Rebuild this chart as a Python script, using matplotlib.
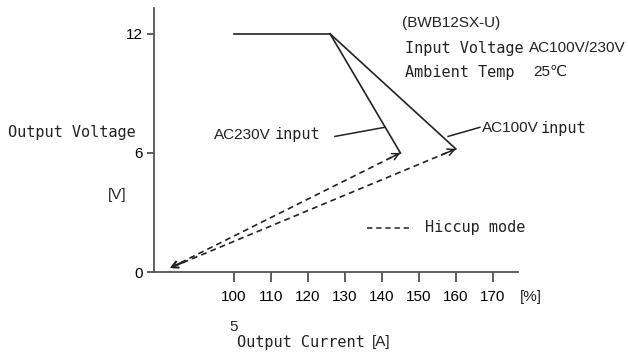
import matplotlib
matplotlib.use("Agg")
import matplotlib.pyplot as plt
from matplotlib.lines import Line2D

# data
knee_x = [100, 126]          # flat part, % of rated current
knee_v = [12, 12]
ac230_x = [126, 145]
ac230_v = [12, 6]
ac100_x = [126, 160]
ac100_v = [12, 6.2]
hiccup_end = (82.7, 0.2)
x_ticks = [100, 110, 120, 130, 140, 150, 160, 170]
y_ticks = [0, 6, 12]

W, H = 628, 357
SANS = ['Liberation Sans', 'DejaVu Sans']
MONO = 'DejaVu Sans Mono'
INK = '#222222'

fig = plt.figure(figsize=(W / 100, H / 100), dpi=100)
ax = fig.add_axes([154 / W, 1 - 272 / H, (518 - 154) / W, (272 - 8) / H])
ax.set_xlim(78.4, 176.8)
ax.set_ylim(0, 13.3)

for s in ['top', 'right']:
    ax.spines[s].set_visible(False)
for s in ['left', 'bottom']:
    ax.spines[s].set_color('#555555')
    ax.spines[s].set_linewidth(1.3)

ax.set_xticks(x_ticks)
ax.set_xticklabels([str(t) for t in x_ticks], family=SANS, fontsize=11)
ax.set_yticks(y_ticks)
ax.set_yticklabels([str(t) for t in y_ticks], family=SANS, fontsize=11)
ax.tick_params(axis='x', length=7, width=1.2, color='#444444', pad=6)
ax.tick_params(axis='y', length=5, width=1.2, color='#444444', pad=3)

# solid characteristic curves
ax.plot(knee_x, knee_v, color=INK, lw=1.2)
ax.plot(ac230_x, ac230_v, color=INK, lw=1.2)
ax.plot(ac100_x, ac100_v, color=INK, lw=1.2)

# hiccup mode dashed arrows (both ends)
for px, pv in [(ac230_x[-1], ac230_v[-1]), (ac100_x[-1], ac100_v[-1])]:
    ax.plot([px, hiccup_end[0]], [pv, hiccup_end[1]], color=INK, lw=1.2,
            ls=(0, (3.5, 2.5)))
    dx = px - hiccup_end[0]
    dv = pv - hiccup_end[1]
    ax.annotate('', xy=(px, pv), xytext=(px - dx * 0.05, pv - dv * 0.05),
                arrowprops=dict(arrowstyle='->', color=INK, lw=1.1,
                                mutation_scale=12, shrinkA=0, shrinkB=0))
    ax.annotate('', xy=hiccup_end,
                xytext=(hiccup_end[0] + dx * 0.05, hiccup_end[1] + dv * 0.05),
                arrowprops=dict(arrowstyle='->', color=INK, lw=1.1,
                                mutation_scale=12, shrinkA=0, shrinkB=0))

# leader lines for labels
ax.plot([127.3, 140.8], [6.83, 7.29], color=INK, lw=1.1)
ax.plot([157.9, 166.5], [6.83, 7.29], color=INK, lw=1.1)


def txt(x, y, s, family=SANS, size=11, ha='left'):
    fig.text(x / W, 1 - y / H, s, family=family, fontsize=size,
             ha=ha, va='center', color=INK)


txt(214, 135, 'AC230V')
txt(275, 135, 'input', MONO, 11)
txt(482, 128, 'AC100V')
txt(541, 128, 'input', MONO, 11)

txt(402, 23, '(BWB12SX-U)')
txt(405, 48, 'Input Voltage', MONO, 11)
txt(529, 48, 'AC100V/230V')
txt(405, 72, 'Ambient Temp', MONO, 11)
txt(533, 72, '25℃')

fig.add_artist(Line2D([367 / W, 413 / W], [1 - 228 / H, 1 - 228 / H],
                      color=INK, lw=1.1, ls=(0, (3.5, 2.5))))
txt(425, 228, 'Hiccup mode', MONO, 11)

txt(8, 133, 'Output Voltage', MONO, 11)
txt(108, 195, '[V]')
txt(520, 297, '[%]')
txt(229, 327, '5')
txt(237, 342, 'Output Current', MONO, 11)
txt(372, 342, '[A]')

fig.savefig('out.png', dpi=100)
